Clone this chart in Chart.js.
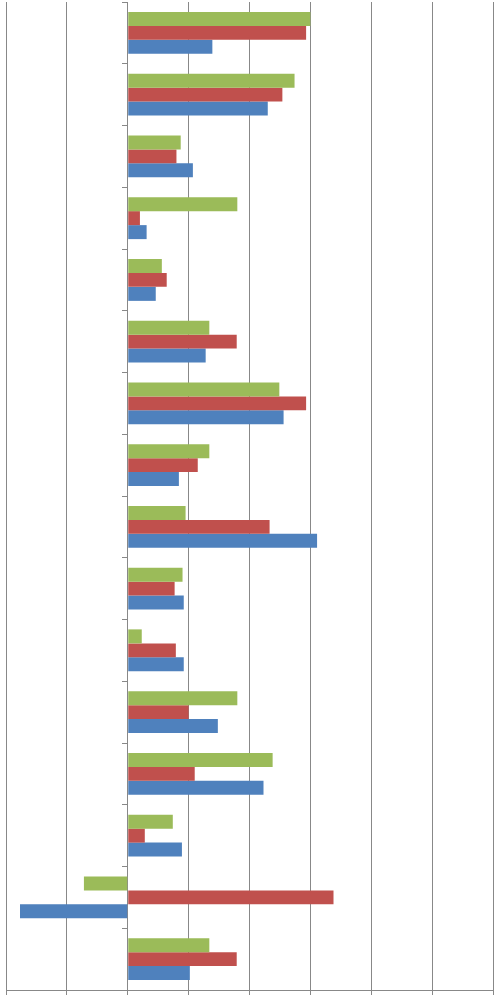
<!DOCTYPE html>
<html><head><script src="https://cdn.jsdelivr.net/npm/chart.js@4"></script>
<style>html,body{margin:0;padding:0;background:#fff}#w{width:496px;height:995px}</style></head>
<body><div id="w"><canvas id="c"></canvas></div>
<script>
const categories = ["1","2","3","4","5","6","7","8","9","10","11","12","13","14","15","16"];
const seriesGreen = [3.0,2.74,0.87,1.80,0.56,1.34,2.49,1.34,0.95,0.90,0.23,1.80,2.38,0.74,-0.72,1.34];
const seriesRed = [2.93,2.54,0.80,0.20,0.64,1.79,2.93,1.15,2.33,0.77,0.79,1.00,1.10,0.28,3.38,1.79];
const seriesBlue = [1.39,2.30,1.07,0.31,0.46,1.28,2.56,0.84,3.11,0.92,0.92,1.48,2.23,0.89,-1.77,1.02];
new Chart(document.getElementById('c'), {
  type: 'bar',
  data: { labels: categories, datasets: [
    {data: seriesGreen, backgroundColor: '#9BBB59'},
    {data: seriesRed, backgroundColor: '#C0504D'},
    {data: seriesBlue, backgroundColor: '#4F81BD'}
  ]},
  options: {
    indexAxis: 'y', responsive: true, maintainAspectRatio: false, animation: false,
    layout: {padding: {left: 6, right: 3, top: 2, bottom: 0}},
    plugins: {legend: {display: false}, tooltip: {enabled: false}},
    datasets: {bar: {categoryPercentage: 0.68, barPercentage: 1}},
    scales: {
      x: {min: -2, max: 6, ticks: {display: false, stepSize: 1},
          grid: {color: '#888', tickLength: 5}, border: {color: '#888'}},
      y: {position: {x: 0}, ticks: {display: false},
          grid: {offset: true, drawOnChartArea: false, color: '#888', tickLength: 5}, border: {color: '#888'}}
    }
  }
});
</script></body></html>
